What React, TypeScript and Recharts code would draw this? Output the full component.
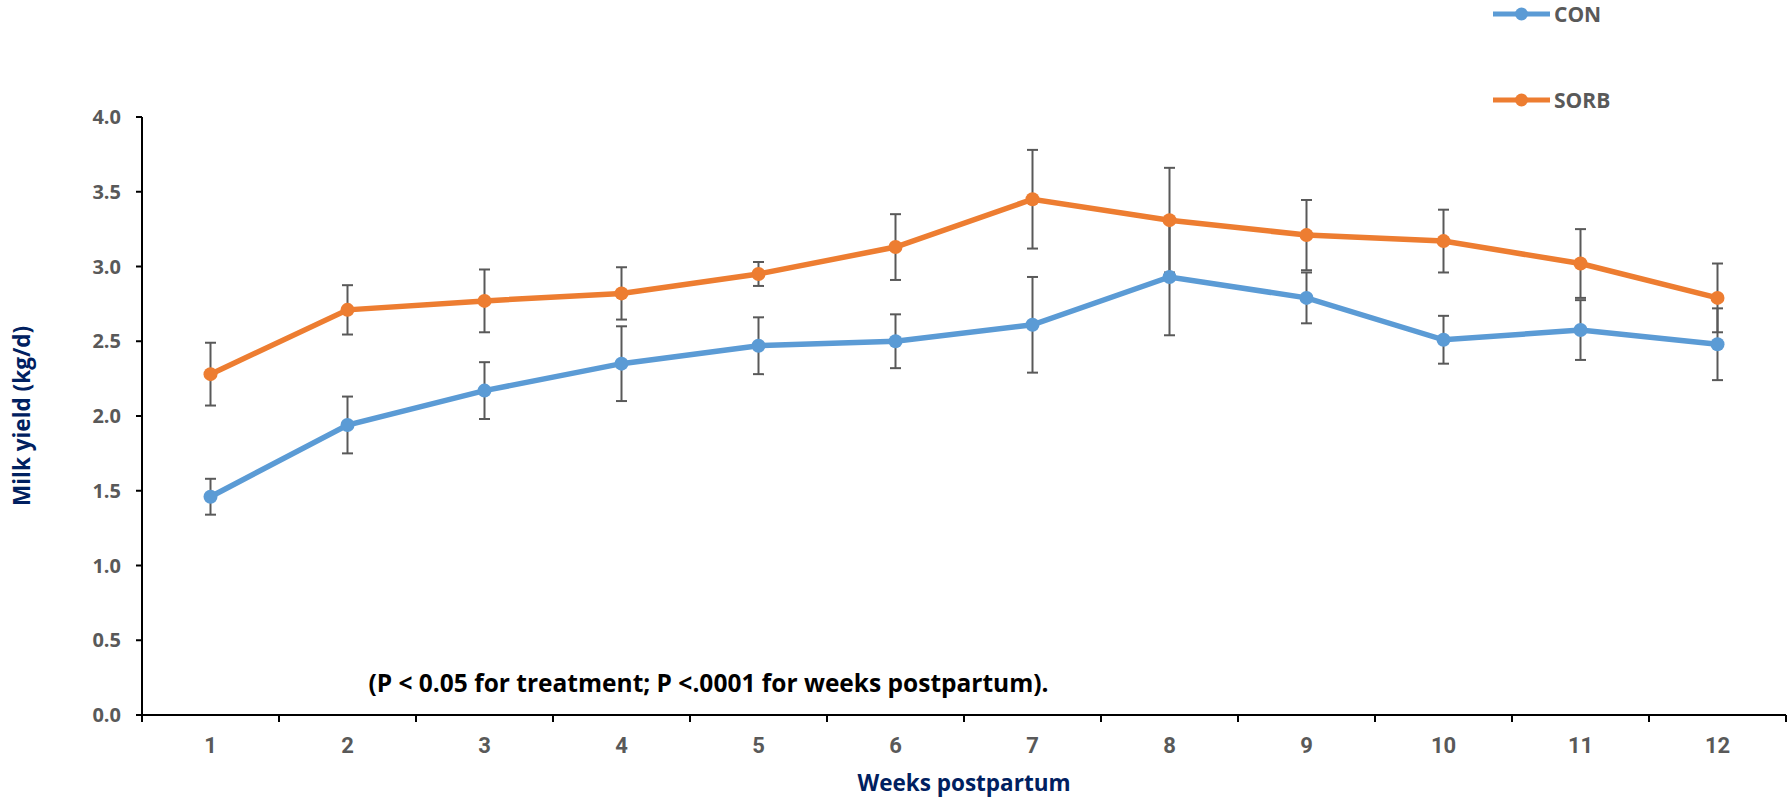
import React from 'react';
import { LineChart, Line, XAxis, YAxis, ErrorBar, ReferenceDot, Label } from 'recharts';

const weeks = [1, 2, 3, 4, 5, 6, 7, 8, 9, 10, 11, 12];
const conValues = [1.46, 1.94, 2.17, 2.35, 2.47, 2.5, 2.61, 2.93, 2.79, 2.51, 2.575, 2.48];
const conErrors = [0.12, 0.19, 0.19, 0.25, 0.19, 0.18, 0.32, 0.39, 0.17, 0.16, 0.2, 0.24];
const sorbValues = [2.28, 2.71, 2.77, 2.82, 2.95, 3.13, 3.45, 3.31, 3.21, 3.17, 3.02, 2.79];
const sorbErrors = [0.21, 0.165, 0.21, 0.175, 0.08, 0.22, 0.33, 0.35, 0.235, 0.21, 0.23, 0.23];
const yTicks = [0, 0.5, 1, 1.5, 2, 2.5, 3, 3.5, 4];
const seriesNames = ['CON', 'SORB'];
const seriesColors = ['#5B9BD5', '#ED7D31'];
const xTitle = 'Weeks postpartum';
const yTitle = 'Milk yield (kg/d)';
const noteText = '(P < 0.05 for treatment; P <.0001 for weeks postpartum).';
const notePos = { x: 4.635, y: 0.21 };

const FONT = '"Open Sans", Lato, sans-serif';
const TICKFONT = 'Roboto, "Open Sans", sans-serif';
const GREY = '#595959';
const NAVY = '#002060';

const data = weeks.map((w, i) => ({
  week: w,
  CON: conValues[i],
  CONerr: conErrors[i],
  SORB: sorbValues[i],
  SORBerr: sorbErrors[i],
}));

const xTicks: number[] = [];
weeks.forEach((w) => {
  xTicks.push(w - 0.5);
  xTicks.push(w);
});
xTicks.push(weeks[weeks.length - 1] + 0.5);

const XTick = (props: any) => {
  const { x, y, payload } = props;
  const v = payload.value;
  if (Number.isInteger(v)) {
    return (
      <text x={x} y={y + 38} textAnchor="middle" fill={GREY} fontFamily={TICKFONT} fontWeight={700} fontSize={22}>
        {v}
      </text>
    );
  }
  return <line x1={x} y1={y} x2={x} y2={y + 7} stroke="#000" strokeWidth={2} />;
};

const LegendBox = () => (
  <div style={{ position: 'absolute', left: 1493, top: 0 }}>
    {seriesNames.map((n, i) => (
      <div
        key={n}
        style={{ display: 'flex', alignItems: 'center', height: 28, marginBottom: i === 0 ? 58 : 0 }}
      >
        <svg width={57} height={16} style={{ display: 'block' }}>
          <line x1={0} y1={8} x2={57} y2={8} stroke={seriesColors[i]} strokeWidth={5} />
          <circle cx={28.5} cy={8} r={6.5} fill={seriesColors[i]} />
        </svg>
        <span style={{ marginLeft: 4, fontFamily: FONT, fontWeight: 700, fontSize: 21, color: GREY, lineHeight: '28px' }}>
          {n}
        </span>
      </div>
    ))}
  </div>
);

export default function App() {
  return (
    <div style={{ position: 'absolute', left: 0, top: 0, width: 1787, height: 799, background: '#fff' }}>
      <LineChart width={1787} height={799} data={data} margin={{ top: 117, right: 1, bottom: 0, left: 0 }}>
        <XAxis
          dataKey="week"
          type="number"
          domain={[0.5, 12.5]}
          ticks={xTicks}
          interval={0}
          height={84}
          tickSize={0}
          tickMargin={0}
          tickLine={false}
          axisLine={{ stroke: '#000', strokeWidth: 2 }}
          tick={<XTick />}
        >
          <Label
            value={xTitle}
            position="insideBottom"
            offset={8}
            fill={NAVY}
            fontFamily={FONT}
            fontWeight={700}
            fontSize={22.5}
          />
        </XAxis>
        <YAxis
          type="number"
          domain={[0, 4]}
          ticks={yTicks}
          interval={0}
          width={142}
          tickSize={6}
          tickMargin={15}
          tickFormatter={(v: number) => v.toFixed(1)}
          axisLine={{ stroke: '#000', strokeWidth: 2 }}
          tickLine={{ stroke: '#000', strokeWidth: 2 }}
          tick={{ fill: GREY, fontFamily: FONT, fontWeight: 700, fontSize: 20 }}
        >
          <Label
            value={yTitle}
            angle={-90}
            position="insideLeft"
            offset={22}
            fill={NAVY}
            fontFamily={FONT}
            fontWeight={700}
            fontSize={22.5}
            style={{ textAnchor: 'middle' }}
          />
        </YAxis>
        <Line
          dataKey="CON"
          name={seriesNames[0]}
          stroke={seriesColors[0]}
          strokeWidth={5.5}
          dot={{ r: 7, fill: seriesColors[0], stroke: 'none' }}
          activeDot={false}
          isAnimationActive={false}
        >
          <ErrorBar dataKey="CONerr" width={5.5} stroke={GREY} strokeWidth={2} direction="y" />
        </Line>
        <Line
          dataKey="SORB"
          name={seriesNames[1]}
          stroke={seriesColors[1]}
          strokeWidth={5.5}
          dot={{ r: 7, fill: seriesColors[1], stroke: 'none' }}
          activeDot={false}
          isAnimationActive={false}
        >
          <ErrorBar dataKey="SORBerr" width={5.5} stroke={GREY} strokeWidth={2} direction="y" />
        </Line>
        <ReferenceDot
          x={notePos.x}
          y={notePos.y}
          r={0}
          fill="none"
          stroke="none"
          ifOverflow="visible"
          label={{ value: noteText, position: 'center', fill: '#000', fontFamily: FONT, fontWeight: 700, fontSize: 24.5 }}
        />
      </LineChart>
      <LegendBox />
    </div>
  );
}
